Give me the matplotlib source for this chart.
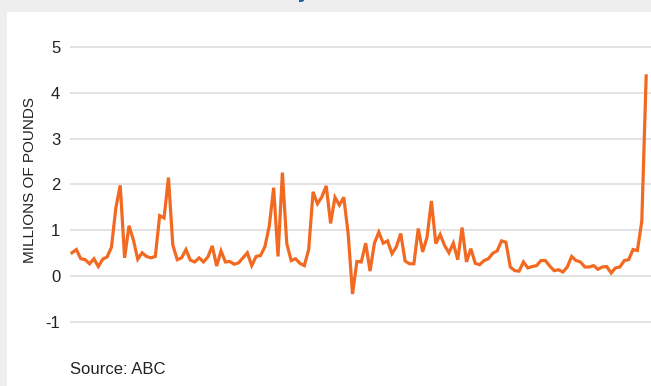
import numpy as np
import matplotlib.pyplot as plt
from matplotlib.patches import Rectangle
from matplotlib import font_manager

# valeurs (millions de livres)
values = [0.51, 0.58, 0.38, 0.36, 0.27, 0.38, 0.21, 0.37, 0.42, 0.63,
          1.49, 1.98, 0.40, 1.10, 0.79, 0.37, 0.51, 0.43, 0.40, 0.43,
          1.32, 1.27, 2.15, 0.68, 0.36, 0.40, 0.58, 0.35, 0.31, 0.40,
          0.31, 0.42, 0.66, 0.22, 0.55, 0.31, 0.32, 0.26, 0.29, 0.40,
          0.51, 0.23, 0.43, 0.45, 0.64, 1.09, 1.93, 0.43, 2.26, 0.71,
          0.34, 0.38, 0.28, 0.23, 0.58, 1.84, 1.58, 1.73, 1.97, 1.15,
          1.72, 1.55, 1.72, 0.93, -0.39, 0.32, 0.31, 0.72, 0.11, 0.72,
          0.96, 0.72, 0.77, 0.49, 0.64, 0.93, 0.33, 0.27, 0.27, 1.04,
          0.53, 0.85, 1.64, 0.71, 0.91, 0.67, 0.51, 0.72, 0.36, 1.06,
          0.31, 0.60, 0.28, 0.25, 0.34, 0.38, 0.50, 0.55, 0.77, 0.74,
          0.20, 0.12, 0.11, 0.31, 0.18, 0.21, 0.23, 0.34, 0.34, 0.22,
          0.12, 0.14, 0.09, 0.20, 0.43, 0.34, 0.31, 0.20, 0.20, 0.23,
          0.15, 0.20, 0.21, 0.07, 0.18, 0.20, 0.34, 0.36, 0.58, 0.56,
          1.20, 4.37]
yticks = [-1, 0, 1, 2, 3, 4, 5]
ylabel = "MILLIONS OF POUNDS"
source = "Source: ABC"

# police étroite si disponible
names = {f.name for f in font_manager.fontManager.ttflist}
font = 'Liberation Sans Narrow' if 'Liberation Sans Narrow' in names else 'Liberation Sans'
plt.rcParams['font.family'] = [font, 'DejaVu Sans']

W, H = 651, 386
fig = plt.figure(figsize=(W / 100, H / 100), dpi=100, facecolor='#eeeeee')
fig.patches.append(Rectangle((7 / W, 0), 1, (H - 12) / H, transform=fig.transFigure,
                             facecolor='white', edgecolor='none', zorder=-5))
# bas du titre coupé
fig.text(303 / W, 1 + 2 / H, 'y', color='#1f5fa0', fontsize=14, fontweight='bold',
         ha='center', va='baseline', family='DejaVu Sans')

ax = fig.add_axes([70 / W, (H - 340) / H, (W - 70) / W, 310 / H])
ax.set_facecolor('none')
x = np.arange(len(values))
ax.plot(x, values, color='#f26a21', linewidth=2.3, solid_joinstyle='miter', zorder=3)

ax.set_xlim(-0.46, len(values) - 1 + 1.1)
ax.set_ylim(-1 - 18 / 45.8, 5 + 17 / 45.8)
ax.set_yticks(yticks)
ax.set_yticklabels([str(t) for t in yticks])
ax.set_xticks([])
ax.grid(axis='y', color='#dddddd', linewidth=1.2)
ax.set_axisbelow(True)
for s in ax.spines.values():
    s.set_visible(False)
ax.tick_params(axis='y', length=0, pad=7, labelsize=12, labelcolor='#222222')

fig.text(30 / W, 1 - 180 / H, ylabel, rotation=90, ha='center', va='center',
         fontsize=11, color='#222222')
fig.text(70 / W, 1 - 370 / H, source, ha='left', va='center', fontsize=12, color='#222222')

fig.savefig('out.png', dpi=100, facecolor=fig.get_facecolor())
